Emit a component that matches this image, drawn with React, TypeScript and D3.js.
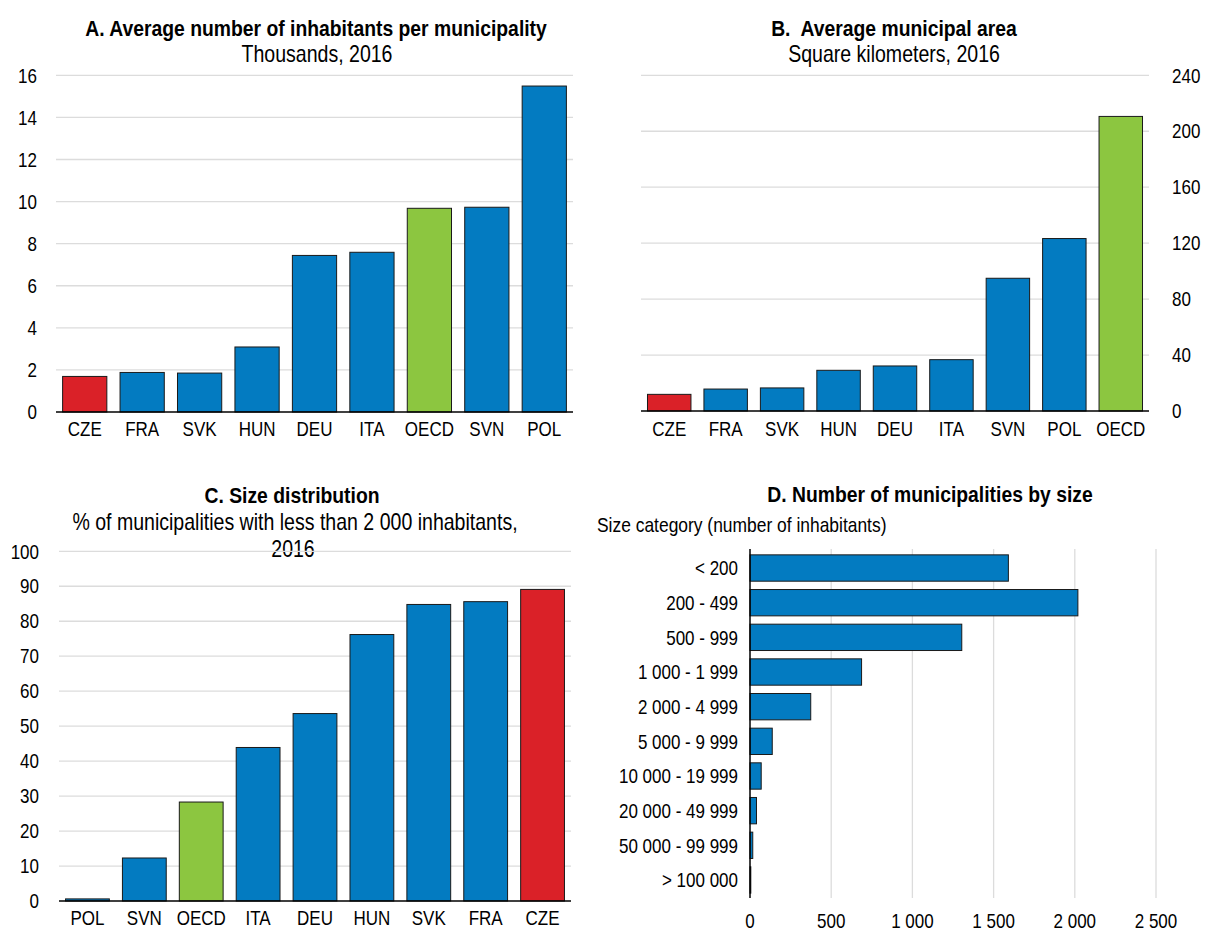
import React from "react";
import * as d3 from "d3";

const catA = ["CZE", "FRA", "SVK", "HUN", "DEU", "ITA", "OECD", "SVN", "POL"];
const valA = [1.69, 1.88, 1.85, 3.09, 7.44, 7.59, 9.68, 9.73, 15.49];
const ticksA = [0, 2, 4, 6, 8, 10, 12, 14, 16];

const catB = ["CZE", "FRA", "SVK", "HUN", "DEU", "ITA", "SVN", "POL", "OECD"];
const valB = [11.9, 15.7, 16.5, 29.1, 32.2, 36.7, 94.9, 123.3, 210.6];
const ticksB = [0, 40, 80, 120, 160, 200, 240];

const catC = ["POL", "SVN", "OECD", "ITA", "DEU", "HUN", "SVK", "FRA", "CZE"];
const valC = [0.6, 12.3, 28.3, 43.9, 53.6, 76.2, 84.8, 85.6, 89.1];
const ticksC = [0, 10, 20, 30, 40, 50, 60, 70, 80, 90, 100];

const catD = [
  "< 200",
  "200 - 499",
  "500 - 999",
  "1 000 - 1 999",
  "2 000 - 4 999",
  "5 000 - 9 999",
  "10 000 - 19 999",
  "20 000 - 49 999",
  "50 000 - 99 999",
  "> 100 000",
];
const valD = [1591, 2019, 1304, 687, 374, 137, 69, 40, 17, 5];
const ticksD = [0, 500, 1000, 1500, 2000, 2500];

const BLUE = "#037bc1";
const RED = "#da2128";
const GREEN = "#8cc640";
const GRID = "#dcdcdc";
const FONT = "'Liberation Sans', Arial, sans-serif";
const FS = 20;
const FS_SUB = 23;
const FS_TITLE = 22.5;
const SX = 0.85;

const colorFor = (c: string) => (c === "CZE" ? RED : c === "OECD" ? GREEN : BLUE);
const fmt = d3.formatLocale({ decimal: ".", thousands: " ", grouping: [3], currency: ["", ""] }).format(",");

type TProps = {
  x: number;
  y: number;
  anchor?: "start" | "middle" | "end";
  bold?: boolean;
  dy?: string;
  size?: number;
  sx?: number;
  children: React.ReactNode;
};

function Txt({ x, y, anchor = "start", bold = false, dy, size = FS, sx = SX, children }: TProps) {
  return (
    <text
      transform={`translate(${x},${y}) scale(${sx},1)`}
      textAnchor={anchor}
      dy={dy}
      fontSize={size}
      fontFamily={FONT}
      fontWeight={bold ? 700 : 400}
      fill="#000"
      style={{ whiteSpace: "pre" }}
    >
      {children}
    </text>
  );
}

type VProps = {
  cats: string[];
  vals: number[];
  ticks: number[];
  x0: number;
  x1: number;
  yZero: number;
  yTop: number;
  side: "left" | "right";
  labelX: number;
  xLabelY: number;
};

function VBars({ cats, vals, ticks, x0, x1, yZero, yTop, side, labelX, xLabelY }: VProps) {
  const x = d3.scaleBand<string>().domain(cats).range([x0, x1]).paddingInner(0.23).paddingOuter(0.115);
  const y = d3.scaleLinear().domain([0, ticks[ticks.length - 1]]).range([yZero, yTop]);
  return (
    <g>
      {ticks.slice(1).map((t) => (
        <line key={t} x1={x0} x2={x1} y1={y(t)} y2={y(t)} stroke={GRID} strokeWidth={1.3} />
      ))}
      {ticks.map((t) => (
        <Txt key={"l" + t} x={labelX} y={y(t)} dy="0.36em" anchor={side === "left" ? "end" : "start"}>
          {fmt(t)}
        </Txt>
      ))}
      {cats.map((c, i) => (
        <rect
          key={c}
          x={x(c)}
          y={y(vals[i])}
          width={x.bandwidth()}
          height={y(0) - y(vals[i])}
          fill={colorFor(c)}
          stroke="#1a1a1a"
          strokeWidth={1}
        />
      ))}
      <line x1={x0} x2={x1} y1={y(0)} y2={y(0)} stroke="#000" strokeWidth={1.5} />
      {cats.map((c) => (
        <Txt key={"x" + c} x={(x(c) as number) + x.bandwidth() / 2} y={xLabelY} anchor="middle">
          {c}
        </Txt>
      ))}
    </g>
  );
}

function HBars() {
  const x = d3.scaleLinear().domain([0, 2500]).range([750, 1156]);
  const y = d3.scaleBand<string>().domain(catD).range([550, 898]).paddingInner(0.24).paddingOuter(0.14);
  return (
    <g>
      {ticksD.slice(1).map((t) => (
        <line key={t} x1={x(t)} x2={x(t)} y1={549} y2={898} stroke={GRID} strokeWidth={1.3} />
      ))}
      {catD.map((c, i) => (
        <rect
          key={c}
          x={x(0)}
          y={y(c)}
          width={x(valD[i]) - x(0)}
          height={y.bandwidth()}
          fill={BLUE}
          stroke="#1a1a1a"
          strokeWidth={1}
        />
      ))}
      <line x1={x(0)} x2={x(0)} y1={549} y2={898} stroke="#000" strokeWidth={1.5} />
      {catD.map((c) => (
        <Txt key={"y" + c} x={738} y={(y(c) as number) + y.bandwidth() / 2} dy="0.36em" anchor="end">
          {c}
        </Txt>
      ))}
      {ticksD.map((t) => (
        <Txt key={"t" + t} x={x(t)} y={928} anchor="middle">
          {fmt(t)}
        </Txt>
      ))}
    </g>
  );
}

export default function App() {
  return (
    <svg
      width={1206}
      height={931}
      viewBox="0 0 1206 931"
      style={{ position: "absolute", left: 0, top: 0, background: "#fff" }}
    >
      <rect width={1206} height={931} fill="#fff" />
      <Txt x={316} y={36} anchor="middle" bold size={FS_TITLE} sx={0.86}>A. Average number of inhabitants per municipality</Txt>
      <Txt x={317} y={62} anchor="middle" size={FS_SUB}>Thousands, 2016</Txt>
      <VBars cats={catA} vals={valA} ticks={ticksA} x0={56} x1={573} yZero={412} yTop={75.3} side="left" labelX={37} xLabelY={436} />

      <Txt x={894} y={36} anchor="middle" bold size={FS_TITLE} sx={0.86}>{"B.  Average municipal area"}</Txt>
      <Txt x={894} y={62} anchor="middle" size={FS_SUB}>Square kilometers, 2016</Txt>
      <VBars cats={catB} vals={valB} ticks={ticksB} x0={641} x1={1149} yZero={411} yTop={75.3} side="right" labelX={1172} xLabelY={436} />

      <Txt x={292} y={503} anchor="middle" bold size={FS_TITLE} sx={0.86}>C. Size distribution</Txt>
      <Txt x={295} y={530} anchor="middle" size={FS_SUB}>% of municipalities with less than 2 000 inhabitants,</Txt>
      <Txt x={293} y={557} anchor="middle" size={FS_SUB}>2016</Txt>
      <VBars cats={catC} vals={valC} ticks={ticksC} x0={59} x1={571} yZero={901} yTop={551.3} side="left" labelX={39} xLabelY={925} />

      <Txt x={930} y={502} anchor="middle" bold size={FS_TITLE} sx={0.86}>D. Number of municipalities by size</Txt>
      <Txt x={597} y={532} size={20.5}>Size category (number of inhabitants)</Txt>
      <HBars />
    </svg>
  );
}
